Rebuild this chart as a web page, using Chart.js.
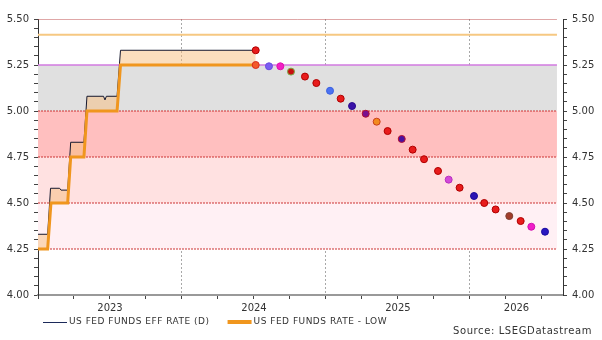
<!DOCTYPE html>
<html>
<head>
<meta charset="utf-8">
<script src="https://cdn.jsdelivr.net/npm/chart.js@4"></script>
<style>
  html, body { margin: 0; padding: 0; background: #fff; }
</style>
</head>
<body>
<canvas id="chart" width="602" height="340"></canvas>
<script>
// dates are decimal years (2023.5 = start of July 2023)
const effDates = [2023.000, 2023.067, 2023.087, 2023.150, 2023.160, 2023.206, 2023.227, 2023.319, 2023.340, 2023.455, 2023.465, 2023.475, 2023.549, 2023.573, 2024.512];
const effRates = [4.33, 4.33, 4.58, 4.58, 4.57, 4.57, 4.83, 4.83, 5.08, 5.08, 5.06, 5.08, 5.08, 5.33, 5.33];

const lowDates = [2023.000, 2023.067, 2023.090, 2023.206, 2023.227, 2023.319, 2023.340, 2023.549, 2023.573, 2024.512];
const lowRates = [4.25, 4.25, 4.50, 4.50, 4.75, 4.75, 5.00, 5.00, 5.25, 5.25];

// market implied path
const fwdDates = [2024.512, 2024.512, 2024.604, 2024.683, 2024.757, 2024.854, 2024.933, 2025.028, 2025.102, 2025.181,
  2025.276, 2025.352, 2025.428, 2025.526, 2025.602, 2025.681, 2025.778, 2025.852, 2025.928, 2026.028,
  2026.099, 2026.178, 2026.273, 2026.352, 2026.426, 2026.521];
const fwdRates = [5.33, 5.25, 5.243, 5.243, 5.214, 5.187, 5.152, 5.110, 5.067, 5.027,
  4.985, 4.942, 4.891, 4.848, 4.790, 4.738, 4.674, 4.627, 4.583, 4.538,
  4.500, 4.465, 4.429, 4.402, 4.371, 4.344];

const bandTops = [5.25, 5.00, 4.75, 4.50];
const bandBottoms = [5.00, 4.75, 4.50, 4.25];
const refLevels = [5.50, 5.415, 5.25, 5.00, 4.75, 4.50, 4.25];
const years = [2023, 2024, 2025, 2026];
const seriesNames = ['US FED FUNDS EFF RATE (D)', 'US FED FUNDS RATE - LOW'];
const sourceText = 'Source: LSEGDatastream';

const xStart = 2023, xEnd = 2026.646, shadeEnd = 2026.604;
const yMin = 4.0, yMax = 5.5;

const RED = '#e81c1c', RED_B = '#b00000';
const dotFill = [RED, '#f25a2a', '#7b5cf2', '#f21fc4', '#c81010', RED, RED, '#4b72f2', RED, '#3a12a8',
  '#7a1090', '#f28a1e', RED, '#4a10a0', RED, RED, RED, '#d24ad8', RED, '#2c14b4',
  RED, RED, '#a23c2a', RED, '#f01ec8', '#2a18c0'];
const dotBorder = [RED_B, '#d82a1a', '#6a4ae0', '#e010b0', '#78b048', RED_B, RED_B, '#3a60e0', RED_B, '#2a0a90',
  '#b01030', '#c8401a', RED_B, '#b81030', RED_B, RED_B, RED_B, '#b830c0', RED_B, '#1e0c98',
  RED_B, RED_B, '#804030', RED_B, '#d010b0', '#1a0aa0'];

const bandColors = ['#e0e0e0', '#ffbfbf', '#ffe1e1', '#fff0f4'];
const refColors = ['#c05050', '#f6c882', '#d27ae0', '#cc3333', '#cc3333', '#cc3333', '#cc3333'];
const refWidths = [1, 2, 1.5, 1, 1, 1, 1];
const refDash = [[], [], [], [2, 1], [2, 1], [2, 1], [2, 1]];
const effColor = '#15182e', lowColor = '#f0961e';
const FONT = 'DejaVu Sans';

// x ticks: quarters, plus year labels centred in each (visible) year
const yearLabelPos = years.map(y => (y + Math.min(y + 1, xEnd)) / 2);
const quarterTicks = [];
for (let i = 0; xStart + i * 0.25 <= xEnd; i++) quarterTicks.push(xStart + i * 0.25);
const xTickValues = [...new Set([...quarterTicks, ...yearLabelPos])].sort((a, b) => a - b);

const yTickValues = [];
for (let i = 0; i <= 30; i++) yTickValues.push(Math.round((yMin + i * 0.05) * 100) / 100);

const pts = (xs, ys) => xs.map((x, i) => ({ x, y: ys[i] }));

const datasets = [];

bandTops.forEach((top, i) => {
  datasets.push({
    data: [{ x: xStart, y: top }, { x: shadeEnd, y: top }],
    borderWidth: 0,
    pointRadius: 0,
    backgroundColor: bandColors[i],
    fill: { value: bandBottoms[i] },
    order: 20,
  });
});

refLevels.forEach((lvl, i) => {
  datasets.push({
    data: [{ x: xStart, y: lvl }, { x: shadeEnd, y: lvl }],
    borderColor: refColors[i],
    borderWidth: refWidths[i],
    borderDash: refDash[i],
    pointRadius: 0,
    fill: false,
    order: 10,
  });
});

const effIndex = datasets.length;
datasets.push({
  label: seriesNames[0],
  data: pts(effDates, effRates),
  borderColor: effColor,
  borderWidth: 1,
  pointRadius: 0,
  backgroundColor: 'rgba(247, 190, 125, 0.5)',
  fill: effIndex + 1,
  order: 3,
});
datasets.push({
  label: seriesNames[1],
  data: pts(lowDates, lowRates),
  borderColor: lowColor,
  borderWidth: 3,
  pointRadius: 0,
  fill: false,
  order: 2,
});
datasets.push({
  type: 'scatter',
  data: pts(fwdDates, fwdRates),
  pointRadius: 3.5,
  borderWidth: 1,
  backgroundColor: dotFill,
  borderColor: dotBorder,
  order: 0,
});

const yAxis = (position, width) => ({
  type: 'linear',
  position,
  min: yMin,
  max: yMax,
  afterBuildTicks: s => { s.ticks = yTickValues.map(value => ({ value })); },
  afterFit: s => { s.width = width; },
  ticks: {
    autoSkip: false,
    padding: 5,
    color: '#333',
    font: { family: FONT, size: 10 },
    callback: v => (Math.round(v * 100) % 25 === 0 ? v.toFixed(2) : ''),
  },
  grid: { drawOnChartArea: false, tickLength: 4, tickColor: '#444' },
  border: { color: '#333', width: 1 },
});

// legend line + source note under the axis
const bottomNotes = {
  id: 'bottomNotes',
  afterDraw(chart) {
    const { ctx, chartArea } = chart;
    const y = chartArea.bottom + 27;
    ctx.save();
    ctx.textBaseline = 'middle';
    ctx.fillStyle = '#333';
    ctx.font = `9px "${FONT}"`;
    ctx.letterSpacing = '0.5px';
    let x = chartArea.left + 5;
    seriesNames.forEach((name, i) => {
      ctx.strokeStyle = i === 0 ? '#1c2a5a' : lowColor;
      ctx.lineWidth = i === 0 ? 1 : 4;
      ctx.beginPath();
      ctx.moveTo(x, i === 0 ? y + 0.5 : y);
      ctx.lineTo(x + 24, i === 0 ? y + 0.5 : y);
      ctx.stroke();
      x += 26;
      ctx.fillText(name, x, y);
      x += ctx.measureText(name).width + 18;
    });
    ctx.font = `10px "${FONT}"`;
    ctx.letterSpacing = '0.6px';
    ctx.textAlign = 'right';
    ctx.fillText(sourceText, chart.width - 10, chartArea.bottom + 36);
    ctx.restore();
  },
};

new Chart(document.getElementById('chart'), {
  type: 'line',
  data: { datasets },
  plugins: [bottomNotes],
  options: {
    responsive: false,
    animation: false,
    devicePixelRatio: 1,
    layout: { padding: { top: 19, left: 0, right: 0, bottom: 3 } },
    elements: { line: { tension: 0 } },
    scales: {
      x: {
        type: 'linear',
        min: xStart,
        max: xEnd,
        afterBuildTicks: s => { s.ticks = xTickValues.map(value => ({ value })); },
        afterFit: s => { s.height = 42; },
        ticks: {
          autoSkip: false,
          maxRotation: 0,
          padding: 3,
          color: '#333',
          font: { family: FONT, size: 10 },
          callback: v => {
            const k = yearLabelPos.indexOf(v);
            return k >= 0 ? String(years[k]) : '';
          },
        },
        grid: {
          color: c => (c.tick && Number.isInteger(c.tick.value) && c.tick.value > xStart ? '#a8a8a8' : 'transparent'),
          tickColor: c => (c.tick && quarterTicks.includes(c.tick.value) ? '#444' : 'transparent'),
          tickLength: 4,
        },
        border: { color: '#999', width: 2, dash: [2, 2] },
      },
      y: yAxis('left', 38),
      y2: yAxis('right', 39),
    },
    plugins: {
      tooltip: { enabled: false },
      legend: { display: false },
      title: { display: false },
    },
  },
});
</script>
</body>
</html>
